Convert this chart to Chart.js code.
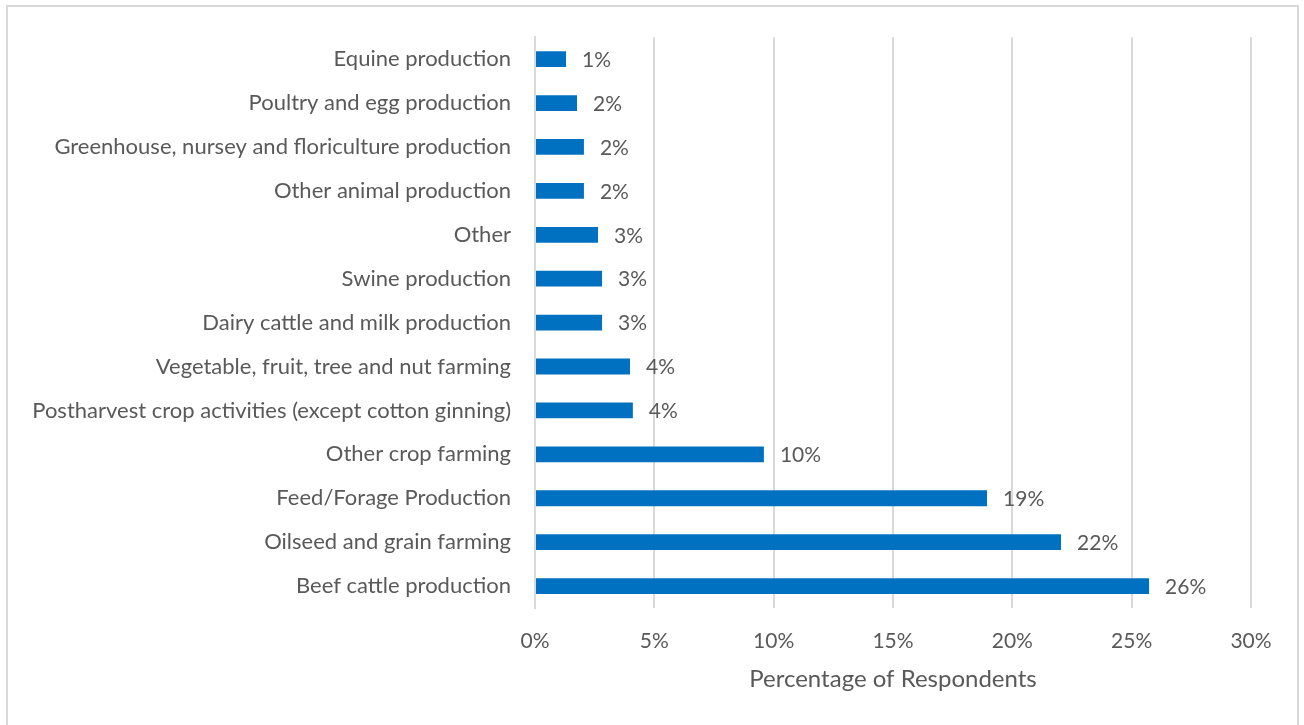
<!DOCTYPE html>
<html>
<head>
<meta charset="utf-8">
<script src="https://cdn.jsdelivr.net/npm/chart.js@4"></script>
<style>
  html, body { margin: 0; padding: 0; background: #fff; }
  body { width: 1304px; height: 725px; position: relative; overflow: hidden; }
  #frame { position: absolute; left: 6px; top: 5px; width: 1293px; height: 740px; border: 2px solid #d9d9d9; box-sizing: border-box; }
  #wrap { position: absolute; left: 0; top: 0; width: 1304px; height: 725px; }
</style>
</head>
<body>
<div id="frame"></div>
<div id="wrap"><canvas id="sectorChart"></canvas></div>
<script>
  const sectors = [
    'Equine production',
    'Poultry and egg production',
    'Greenhouse, nursey and floriculture production',
    'Other animal production',
    'Other',
    'Swine production',
    'Dairy cattle and milk production',
    'Vegetable, fruit, tree and nut farming',
    'Postharvest crop activities (except cotton ginning)',
    'Other crop farming',
    'Feed/Forage Production',
    'Oilseed and grain farming',
    'Beef cattle production'
  ];
  const respondentShare = [1.3, 1.76, 2.05, 2.05, 2.64, 2.81, 2.81, 3.98, 4.1, 9.59, 18.94, 22.04, 25.73];
  const xTicks = [0, 5, 10, 15, 20, 25, 30];

  const textColor = '#595959';
  const fontFamily = 'Lato, "Open Sans", sans-serif';

  // value labels to the right of each bar
  const barLabels = {
    id: 'barLabels',
    afterDatasetsDraw(chart) {
      const ctx = chart.ctx;
      const meta = chart.getDatasetMeta(0);
      ctx.save();
      ctx.font = '21px ' + fontFamily;
      ctx.fillStyle = textColor;
      ctx.textAlign = 'left';
      ctx.textBaseline = 'middle';
      meta.data.forEach((bar, i) => {
        const v = respondentShare[i];
        ctx.fillText(Math.round(v) + '%', bar.x + 16, bar.y + 1);
      });
      ctx.restore();
    }
  };

  new Chart(document.getElementById('sectorChart'), {
    type: 'bar',
    data: {
      labels: sectors,
      datasets: [{
        data: respondentShare,
        backgroundColor: '#0070c0',
        borderWidth: 0,
        categoryPercentage: 1,
        barPercentage: 0.36
      }]
    },
    options: {
      indexAxis: 'y',
      responsive: true,
      maintainAspectRatio: false,
      animation: false,
      layout: { padding: { left: 0, top: 35, right: 53, bottom: 0 } },
      plugins: {
        legend: { display: false },
        tooltip: { enabled: false }
      },
      scales: {
        x: {
          min: 0,
          max: 30,
          afterBuildTicks: s => { s.ticks = xTicks.map(v => ({ value: v })); },
          afterFit: s => { s.height = 117; },
          grid: { color: '#d9d9d9', lineWidth: 2, drawTicks: false },
          border: { display: false },
          ticks: {
            padding: 21,
            color: textColor,
            font: { family: fontFamily, size: 21 },
            callback: v => v + '%'
          },
          title: {
            display: true,
            text: 'Percentage of Respondents',
            color: textColor,
            font: { family: fontFamily, size: 24 },
            padding: { top: 0, bottom: 31 }
          }
        },
        y: {
          afterFit: s => { s.width = 535; },
          grid: { display: false, drawTicks: false },
          border: { display: true, color: '#d9d9d9', width: 2 },
          ticks: {
            padding: 24,
            color: textColor,
            font: { family: fontFamily, size: 22 }
          }
        }
      }
    },
    plugins: [barLabels]
  });
</script>
</body>
</html>
